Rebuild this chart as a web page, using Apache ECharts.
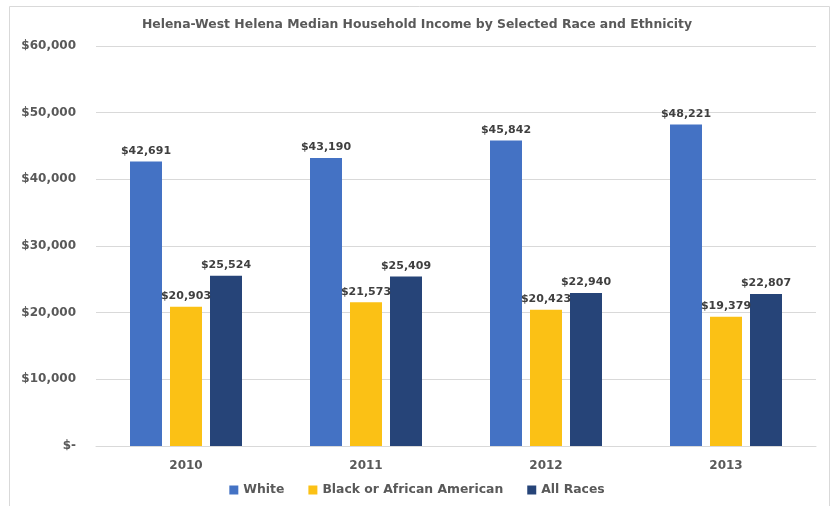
<!DOCTYPE html>
<html>
<head>
<meta charset="utf-8">
<script src="https://cdn.jsdelivr.net/npm/echarts@6/dist/echarts.min.js"></script>
<style>
  html, body { margin: 0; padding: 0; background: #fff; }
  #main { width: 834px; height: 506px; }
</style>
</head>
<body>
<div id="main"></div>
<script>
const years = ['2010', '2011', '2012', '2013']
const white = [42691, 43190, 45842, 48221]
const black = [20903, 21573, 20423, 19379]
const allRaces = [25524, 25409, 22940, 22807]

const textColor = '#595959'
const fontFamily = '"DejaVu Sans", Verdana, sans-serif'

const money = v => '$' + v.toLocaleString('en-US')

const chart = echarts.init(document.getElementById('main'))

const makeSeries = (name, data, color) => ({
  name: name,
  type: 'bar',
  data: data,
  barWidth: 32,
  barGap: '25%',
  itemStyle: { color: color },
  label: {
    show: true,
    position: 'top',
    distance: 5,
    formatter: p => money(p.value),
    color: '#404040',
    fontWeight: 'bold',
    fontSize: 11,
    fontFamily: fontFamily
  }
})

chart.setOption({
  animation: false,
  backgroundColor: '#fff',
  graphic: [{
    type: 'rect',
    shape: { x: 9.5, y: 6.5, width: 820, height: 520 },
    style: { fill: 'none', stroke: '#d9d9d9', lineWidth: 1 },
    silent: true
  }],
  title: {
    text: 'Helena-West Helena Median Household Income by Selected Race and Ethnicity',
    left: 'center',
    top: 14,
    textStyle: { color: textColor, fontSize: 12.4, fontWeight: 'bold', fontFamily: fontFamily }
  },
  legend: {
    bottom: 5,
    left: 'center',
    itemWidth: 9,
    itemHeight: 9,
    itemGap: 24,
    icon: 'rect',
    textStyle: { color: textColor, fontSize: 12.4, fontWeight: 'bold', fontFamily: fontFamily }
  },
  grid: { left: 96, right: 18, top: 46, bottom: 60 },
  xAxis: {
    type: 'category',
    data: years,
    axisTick: { show: false },
    axisLine: { lineStyle: { color: '#d9d9d9' } },
    axisLabel: { color: textColor, fontSize: 12, fontWeight: 'bold', fontFamily: fontFamily, margin: 14 }
  },
  yAxis: {
    type: 'value',
    min: 0,
    max: 60000,
    interval: 10000,
    axisLine: { show: false },
    axisTick: { show: false },
    splitLine: { lineStyle: { color: '#d9d9d9' } },
    axisLabel: {
      color: textColor,
      fontSize: 12,
      fontWeight: 'bold',
      fontFamily: fontFamily,
      margin: 20,
      formatter: v => v === 0 ? '$-' : money(v)
    }
  },
  series: [
    makeSeries('White', white, '#4472C4'),
    makeSeries('Black or African American', black, '#FBC115'),
    makeSeries('All Races', allRaces, '#264478')
  ]
})
</script>
</body>
</html>
